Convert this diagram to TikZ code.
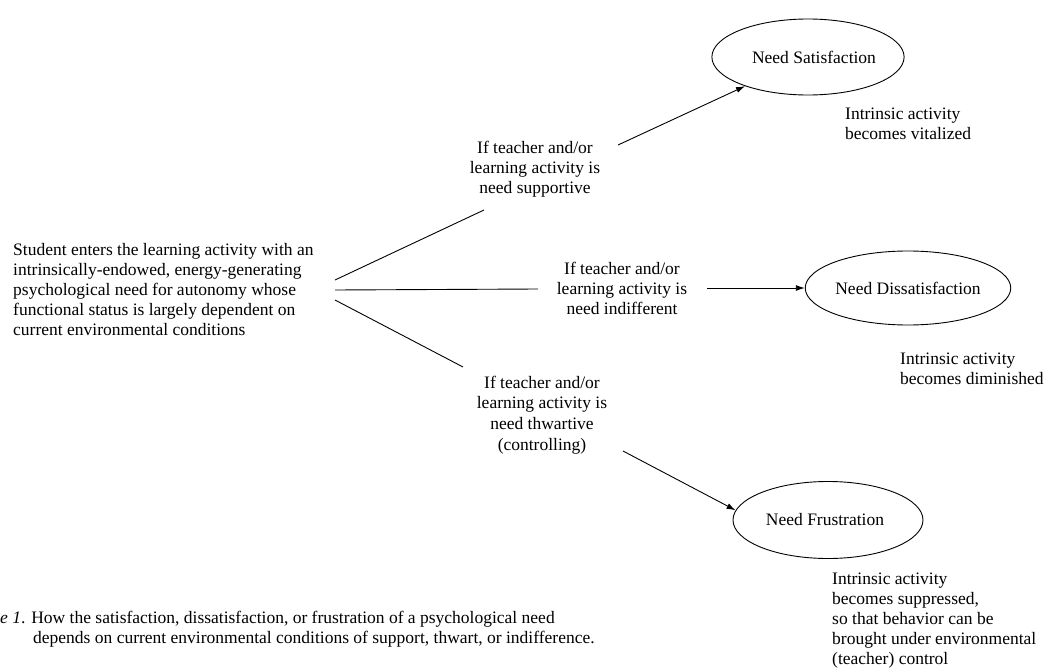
\documentclass[tikz,border=0pt]{standalone}
\usepackage{fontspec}
\setmainfont{Liberation Serif}
\usetikzlibrary{shapes.geometric,arrows.meta}
\begin{document}
\begin{tikzpicture}[x=1pt,y=-1pt,
  every node/.style={font=\fontsize{17.5}{20}\selectfont, inner sep=0pt},
  txt/.style={align=center},
  note/.style={align=left, anchor=west},
  state/.style={draw, ellipse, line width=0.9pt, inner sep=0pt},
  link/.style={line width=0.9pt},
  arrow/.style={link, -{Latex[length=9pt,width=6pt]}}]
\useasboundingbox (0,0) rectangle (1045,669);
\fill[white] (0,0) rectangle (1045,669);

% starting condition
\node[note] (src) at (13,290) {Student enters the learning activity with an\\intrinsically-endowed, energy-generating\\psychological need for autonomy whose\\functional status is largely dependent on\\current environmental conditions};

% environmental conditions
\node[txt] (sup) at (535,169) {If teacher and/or\\learning activity is\\need supportive};
\node[txt] (ind) at (622,288) {If teacher and/or\\learning activity is\\need indifferent};
\node[txt, font=\fontsize{17.5}{20.7}\selectfont] (thw) at (542,415) {If teacher and/or\\learning activity is\\need thwartive\\(controlling)};

% outcomes
\node[state, minimum width=190pt, minimum height=76pt] (sat) at (808,57) {\hspace*{12pt}Need Satisfaction};
\node[state, minimum width=204pt, minimum height=74pt] (dis) at (908,288) {Need Dissatisfaction};
\node[state, minimum width=190pt, minimum height=77pt] (fru) at (828,520) {Need Frustration\hspace*{6pt}};

% consequences
\node[note] (satn) at (845,124) {Intrinsic activity\\becomes vitalized};
\node[note] (disn) at (900,369) {Intrinsic activity\\becomes diminished};
\node[note] (frun) at (832,621) {Intrinsic activity\\becomes suppressed,\\so that behavior can be\\brought under environmental\\(teacher) control};

% caption
\node[note] (cap) at (0,629.5) {\textit{e 1}. How the satisfaction, dissatisfaction, or frustration of a psychological need\\\hspace*{33pt}depends on current environmental conditions of support, thwart, or indifference.};

% branch points and line ends
\coordinate (s1) at (335,280);
\coordinate (s2) at (335,290);
\coordinate (s3) at (335,300);
\coordinate (supin) at (484,210);
\coordinate (indin) at (538,289);
\coordinate (thwin) at (463,367);
\coordinate (supout) at (618,145);
\coordinate (indout) at (707,288);
\coordinate (thwout) at (623,451);

\draw[link] (s1) -- (supin);
\draw[link] (s2) -- (indin);
\draw[link] (s3) -- (thwin);
\draw[arrow] (supout) -- (sat);
\draw[arrow] (indout) -- (dis);
\draw[arrow] (thwout) -- (fru.174);
\end{tikzpicture}
\end{document}
